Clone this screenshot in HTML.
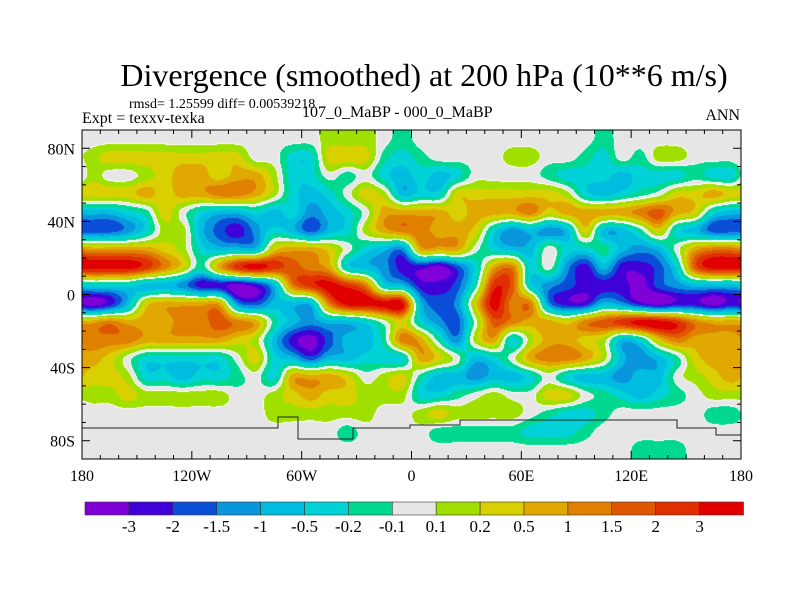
<!DOCTYPE html>
<html><head><meta charset="utf-8">
<style>
body{margin:0;background:#fff;width:800px;height:600px;overflow:hidden;font-family:"Liberation Serif",serif;}
#wrap{position:relative;width:800px;height:600px;}
.t{position:absolute;white-space:nowrap;color:#000;}
</style></head><body>
<div id="wrap">
<div class="t" style="left:0;width:848px;text-align:center;top:57px;font-size:32px;">Divergence (smoothed) at 200 hPa (10**6 m/s)</div>
<div class="t" style="left:129px;top:97px;font-size:14px;">rmsd= 1.25599 diff= 0.00539218</div>
<div class="t" style="left:82px;top:110px;font-size:16px;">Expt = texxv-texka</div>
<div class="t" style="left:302px;top:104px;font-size:16px;">107_0_MaBP - 000_0_MaBP</div>
<div class="t" style="right:60px;top:107px;font-size:16px;">ANN</div>
<canvas id="map" width="659" height="329" style="position:absolute;left:82px;top:130px;"></canvas>
<svg id="ov" width="800" height="600" style="position:absolute;left:0;top:0;"></svg>
</div>
<script>
const levelColors=['#8000d8','#4000d8','#0a4ed8','#0a96dc','#00bde0','#00d2d8','#00d890','#e6e6e6','#a0e000','#d8d000','#e0a800','#e08000','#e05500','#e03000','#e00000'];
const levelLabels=['-3','-2','-1.5','-1','-0.5','-0.2','-0.1','0.1','0.2','0.5','1','1.5','2','3'];
const lonTicks=['180','120W','60W','0','60E','120E','180'];
const latTicks=['80N','40N','0','40S','80S'];
const latTickValues=[80,40,0,-40,-80];
// field class codes (-7..7), rows lat 90N->90S in 10deg, cols lon 180W->180E in 10deg
const row0=[0,0,0,0,0,0,0,0,0,0,0,0,0,1,1,1,0,-1,0,0,0,0,0,0,0,0,0,0,-1,0,0,0,0,0,0,0];
const row1=[1,2,2,2,2,2,2,2,2,0,0,-2,-2,2,2,2,-1,-2,-1,0,0,0,0,1,1,0,0,-1,-2,0,-1,1,1,0,0,0];
const row2=[1,0,0,1,2,3,3,2,3,3,1,-2,-2,0,-1,0,-2,-3,-2,-3,-2,0,0,0,0,-1,-2,-2,-2,-3,-2,-2,-2,-1,-2,-2];
const row3=[2,2,2,3,2,3,3,4,4,3,1,-2,-3,-2,0,2,1,-3,-2,-2,2,2,2,2,2,2,1,-2,-3,-2,-1,0,2,2,3,2];
const row4=[-3,-3,-2,-1,2,0,-2,-3,-3,-2,-3,-2,-4,-3,-2,0,3,3,3,3,2,3,3,3,4,2,3,3,3,3,4,5,3,2,-2,-3];
const row5=[-5,-5,-4,-2,1,1,-3,-5,-6,-4,-2,-3,-5,-3,-2,1,3,4,4,3,3,2,-2,-4,-3,-4,-3,2,-3,-3,-1,2,-2,-3,-5,-5];
const row6=[3,3,3,3,2,1,-2,-3,-3,-3,2,3,3,2,0,-2,-3,-4,3,3,3,0,-2,-3,-3,0,-2,-2,-1,-3,-4,-3,0,3,4,4];
const row7=[7,7,7,6,4,2,-1,3,6,7,6,5,4,3,-2,-3,-4,-6,-6,-7,-5,-2,3,4,-2,0,-4,-6,-3,-6,-6,-5,-2,5,7,7];
const row8=[-2,-2,-2,-3,-3,-4,-6,-6,-7,-6,-3,4,6,7,6,4,-2,-3,-6,-6,-5,-1,6,5,-2,-4,-5,-6,-6,-6,-7,-5,-4,-3,-3,-3];
const row9=[-7,-6,-3,2,3,3,3,3,-4,-5,-3,-3,-3,4,7,7,7,7,-3,-5,-4,2,7,4,4,-4,-6,-6,-3,-4,-6,-7,-6,-6,-7,-6];
const row10=[3,4,3,3,3,4,4,5,4,3,-1,-3,-4,-3,-3,-2,0,2,-2,-4,-5,0,5,4,3,3,2,4,5,6,7,7,6,4,3,3];
const row11=[4,4,4,3,3,3,3,3,2,1,-3,-6,-7,-5,-3,-3,-1,4,3,-1,-4,1,3,-2,1,3,3,2,1,-3,-2,2,4,3,3,3];
const row12=[3,2,0,-2,-2,-2,-2,-2,0,2,-2,-3,-5,-3,-3,-2,-2,-2,3,2,0,-3,-2,0,3,4,4,3,1,-3,-4,-3,-1,2,3,3];
const row13=[2,2,1,-2,-2,-3,-2,-2,-1,0,-2,3,3,3,2,0,1,2,-1,-3,-3,-4,-3,-3,-2,0,-2,-3,-3,-4,-3,-3,0,1,2,3];
const row14=[1,1,2,1,1,1,1,1,0,0,1,2,3,2,2,1,1,1,-2,-2,-1,0,1,0,0,2,2,0,-1,-2,-3,-2,-1,0,1,1];
const row15=[0,0,0,0,0,0,0,0,0,0,1,1,1,1,1,1,0,0,1,2,1,1,1,1,0,-1,-2,-2,-1,0,0,0,0,0,-1,-1];
const row16=[0,0,0,0,0,0,0,0,0,0,0,0,0,0,-1,0,0,0,0,-1,-1,-1,-1,-1,-2,-2,-2,-1,0,0,0,0,0,0,0,0];
const row17=[0,0,0,0,0,0,0,0,0,0,0,0,0,0,0,0,0,0,0,0,0,0,0,0,0,0,0,0,0,0,-1,-1,-1,0,0,0];
const field=[row0,row1,row2,row3,row4,row5,row6,row7,row8,row9,row10,row11,row12,row13,row14,row15,row16,row17];

const X0=82,X1=741,Y0=130,Y1=459;
const xScale=lon=>X0+(lon+180)/360*(X1-X0);
const yScale=lat=>Y0+(90-lat)/180*(Y1-Y0);

// draw field (bicubic interpolation, contour-filled by level)
(function(){
  const cv=document.getElementById('map');const ctx=cv.getContext('2d');
  const W=cv.width,H=cv.height;const nr=field.length,nc=field[0].length;
  const img=ctx.createImageData(W,H);
  const rgb=levelColors.map(c=>[parseInt(c.substr(1,2),16),parseInt(c.substr(3,2),16),parseInt(c.substr(5,2),16)]);
  const cr=(p0,p1,p2,p3,t)=>0.5*((2*p1)+(-p0+p2)*t+(2*p0-5*p1+4*p2-p3)*t*t+(-p0+3*p1-3*p2+p3)*t*t*t);
  const get=(r,c)=>field[Math.max(0,Math.min(nr-1,r))][((c%nc)+nc)%nc];
  const val=new Float32Array(W*H);
  for(let py=0;py<H;py++){
    let gy=(py+0.5)/H*nr-0.5;
    const r0=Math.floor(gy),fy=gy-r0;
    for(let px=0;px<W;px++){
      const gx=(px+0.5)/W*nc-0.5;
      const c0=Math.floor(gx),fx=gx-c0;
      const rows=[];
      for(let k=-1;k<=2;k++){rows.push(cr(get(r0+k,c0-1),get(r0+k,c0),get(r0+k,c0+1),get(r0+k,c0+2),fx));}
      val[py*W+px]=cr(rows[0],rows[1],rows[2],rows[3],fy);
    }
  }
  const cls=new Int8Array(W*H);
  for(let i=0;i<W*H;i++){let k=Math.round(val[i])+7;cls[i]=Math.max(0,Math.min(14,k));}
  for(let py=0;py<H;py++)for(let px=0;px<W;px++){
    const i=py*W+px;let k=cls[i];const d=img.data;let col=rgb[k];
    if(k===7){ // white edge around gray zones
      const nb=[px>0?cls[i-1]:7,px<W-1?cls[i+1]:7,py>0?cls[i-W]:7,py<H-1?cls[i+W]:7];
      if(nb.some(n=>n!==7))col=[255,255,255];
    }
    d[i*4]=col[0];d[i*4+1]=col[1];d[i*4+2]=col[2];d[i*4+3]=255;
  }
  ctx.putImageData(img,0,0);
})();

const NS='http://www.w3.org/2000/svg';
const ov=document.getElementById('ov');
function mk(tag,attrs){const e=document.createElementNS(NS,tag);for(const k in attrs)e.setAttribute(k,attrs[k]);ov.appendChild(e);return e;}

// Antarctica coast (approx)
const coast=mk('polyline',{points:'82,428 278,428 278,417 298,417 298,439 353,439 353,428 410,428 410,425 460,425 460,420 677,420 677,428 716,428 716,435 741,435',fill:'none',stroke:'#222','stroke-width':1});



// frame
const fr=mk('rect',{x:X0,y:Y0,width:X1-X0,height:Y1-Y0,fill:'none',stroke:'#000','stroke-width':1});



// ticks
for(let lon=-180;lon<=180;lon+=10){
  const x=xScale(lon);const L=(lon%60===0)?8:4;
  const t1=mk('line',{x1:x,x2:x,y1:Y1,y2:Y1-L,stroke:'#000'});
  
  
  const t2=mk('line',{x1:x,x2:x,y1:Y0,y2:Y0+L,stroke:'#000'});
  
  
}
for(let lat=-90;lat<=90;lat+=10){
  const y=yScale(lat);const L=(lat%40===0)?8:4;
  const t1=mk('line',{x1:X0,x2:X0+L,y1:y,y2:y,stroke:'#000'});
  
  
  const t2=mk('line',{x1:X1,x2:X1-L,y1:y,y2:y,stroke:'#000'});
  
  
}
lonTicks.forEach((s,i)=>{
  const t=mk('text',{x:xScale(-180+60*i),y:481,'text-anchor':'middle','font-size':16,'font-family':'Liberation Serif, serif'});
  t.textContent=s;
  
  
});
latTicks.forEach((s,i)=>{
  const t=mk('text',{x:75,y:yScale(latTickValues[i])+6,'text-anchor':'end','font-size':16,'font-family':'Liberation Serif, serif'});
  t.textContent=s;
  
  
});

// colorbar
const CB0=85,CBW=43.9,CBY=502,CBH=13;
levelColors.forEach((c,i)=>{
  const r=mk('rect',{x:CB0+i*CBW,y:CBY,width:CBW,height:CBH,fill:c,stroke:'#333','stroke-width':0.6});
  
  
});
levelLabels.forEach((s,i)=>{
  const t=mk('text',{x:CB0+(i+1)*CBW,y:532,'text-anchor':'middle','font-size':17,'font-family':'Liberation Serif, serif'});
  t.textContent=s;
  
  
});
</script>
</body></html>
